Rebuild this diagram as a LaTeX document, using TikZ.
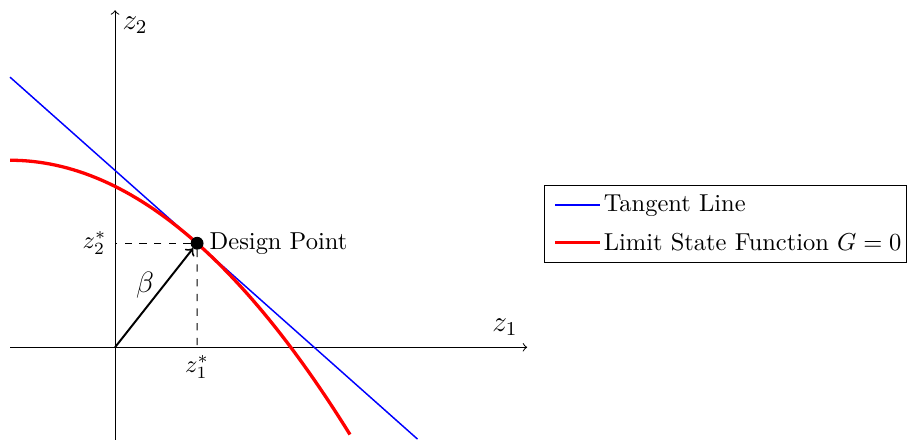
\documentclass[tikz,border=0pt]{standalone}
\usepackage{tikz}
\usepackage{amsmath}
\usetikzlibrary{positioning}

\begin{document}
\begin{tikzpicture}[scale=0.775]
                    \useasboundingbox (-2.13,-1.70) rectangle (14.70,6.43);
                    \coordinate (O) at (0,0);
                    \coordinate (xl) at (-1.94,0);
                    \coordinate (xr) at (7.63,0);
                    \coordinate (yb) at (0,-1.75);
                    \coordinate (yt) at (0,6.24);
                    \coordinate (X1) at (1.519,0);
                    \coordinate (X2) at (0,1.926);
                    \coordinate (T1) at (-1.944,5.001);
                    \coordinate (T2) at (5.60,-1.70);
                    
                    \draw[->] (xl) -- (xr);
                    \draw[->] (yb) -- (yt);
                    \node (z1) at (7.22,0.37) {\large $z_1$};
                    \node (z2) at (0.37,5.96) {\large $z_2$};
                    
                    \draw[blue, semithick] (T1) -- (T2);
                    \draw[red, line width=1.35pt, domain=-1.944:4.35, samples=60] plot (\x, {3.463-0.1282*(\x+1.944)*(\x+1.944)});
                    
                    \node[draw, circle, fill=black, inner sep=0pt, minimum size=0.17cm] (D) at (1.519,1.926) {};
                    \node[right=-1pt of D] (Dlabel) {Design Point};
                    \draw[dashed] (D) -- (X1);
                    \draw[dashed] (D) -- (X2);
                    \node[below=0pt of X1] (z1s) {$z_1^*$};
                    \node[left=0pt of X2] (z2s) {$z_2^*$};
                    \draw[->, thick] (O) -- (D);
                    \node (beta) at (0.556,1.15) {\large $\beta$};
                    
                    \draw (7.96,1.574) rectangle (14.65,3.0);
                    \coordinate (b1) at (8.15,2.63);
                    \coordinate (b2) at (8.98,2.63);
                    \coordinate (r1) at (8.15,1.944);
                    \coordinate (r2) at (8.98,1.944);
                    \draw[blue, semithick] (b1) -- (b2);
                    \draw[red, line width=1.35pt] (r1) -- (r2);
                    \node[right=-2pt of b2] (tl) {Tangent Line};
                    \node[right=-2pt of r2] (lsf) {Limit State Function $G=0$};
                \end{tikzpicture}
\end{document}
